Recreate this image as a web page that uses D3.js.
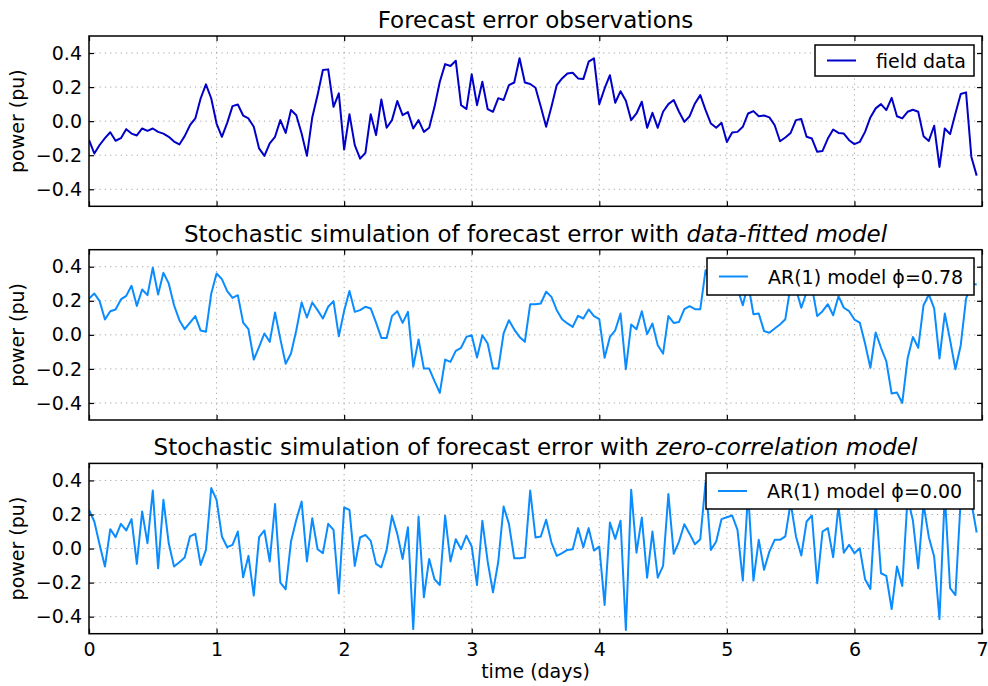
<!DOCTYPE html>
<html><head><meta charset="utf-8">
<script src="https://cdn.jsdelivr.net/npm/d3@7"></script>
<style>
body{margin:0;background:#fff}
svg{display:block}
text{font-family:"DejaVu Sans","Bitstream Vera Sans",sans-serif;fill:#000}
</style>
</head><body>
<svg id="chart" width="988" height="686"></svg>
<script>
// ---------------- data (hourly samples, 7 days) ----------------
const stepDays = 1 / 24;

const fieldData = [
 -0.11,-0.19,-0.14,-0.10,-0.065,-0.115,-0.10,-0.047,-0.073,-0.084,-0.043,-0.057,
 -0.043,-0.063,-0.073,-0.092,-0.12,-0.137,-0.088,-0.024,0.016,0.133,0.216,0.133,
 -0.014,-0.092,-0.01,0.088,0.098,0.033,0.016,-0.033,-0.16,-0.204,-0.13,-0.092,
 0.006,-0.069,0.065,0.035,-0.073,-0.204,0.022,0.153,0.30,0.304,0.084,0.163,
 -0.167,0.041,-0.141,-0.22,-0.186,0.041,-0.082,0.127,-0.039,0.006,0.118,0.035,
 0.053,-0.043,0.006,-0.063,-0.039,0.084,0.231,0.335,0.324,0.355,0.094,0.071,
 0.275,0.094,0.231,0.071,0.055,0.135,0.124,0.212,0.227,0.369,0.227,0.218,
 0.196,0.084,-0.033,0.084,0.212,0.251,0.28,0.284,0.251,0.247,0.349,0.369,
 0.10,0.192,0.27,0.108,0.176,0.12,0.006,0.045,0.114,-0.039,0.049,-0.039,
 0.055,0.10,0.124,0.055,-0.004,0.029,0.104,0.153,0.065,-0.014,-0.039,-0.01,
 -0.122,-0.067,-0.063,-0.033,0.045,0.059,0.029,0.033,0.022,-0.024,-0.118,-0.096,
 -0.069,0.006,0.012,-0.092,-0.102,-0.18,-0.175,-0.102,-0.049,-0.069,-0.073,-0.112,
 -0.135,-0.122,-0.063,0.022,0.075,0.10,0.065,0.137,0.029,0.016,0.055,0.067,
 0.055,-0.088,-0.116,-0.027,-0.269,-0.043,-0.076,0.045,0.159,0.169,-0.21,-0.32
];

const arFitted = [
 0.213,0.243,0.198,0.09,0.139,0.149,0.208,0.229,0.288,0.17,0.266,0.233,
 0.394,0.237,0.364,0.302,0.174,0.086,0.033,0.072,0.11,0.025,0.018,0.243,
 0.36,0.327,0.257,0.217,0.233,0.072,0.033,-0.145,-0.07,0.008,-0.041,0.131,
 -0.025,-0.17,-0.11,0.027,0.19,0.102,0.19,0.145,0.096,0.165,0.198,-0.008,
 0.141,0.257,0.135,0.145,0.165,0.155,0.072,-0.018,-0.018,0.11,0.139,0.07,
 0.135,-0.188,-0.027,-0.198,-0.198,-0.272,-0.341,-0.145,-0.159,-0.094,-0.076,-0.012,
 -0.002,-0.133,-0.002,-0.051,-0.198,-0.198,0.008,0.086,0.031,-0.012,-0.041,0.18,
 0.18,0.184,0.253,0.223,0.145,0.092,0.067,0.047,0.112,0.096,0.149,0.11,
 0.092,-0.135,-0.012,0.027,0.125,-0.202,0.061,0.033,0.139,0.004,0.067,-0.061,
 -0.11,0.11,0.07,0.076,0.151,0.168,0.151,0.151,0.38,0.31,0.27,0.34,
 0.29,0.32,0.27,0.174,0.30,0.121,0.125,0.022,0.012,0.037,0.061,0.092,
 0.29,0.27,0.159,0.25,0.28,0.11,0.139,0.18,0.115,0.227,0.159,0.139,
 0.09,0.072,-0.051,-0.194,0.014,-0.076,-0.155,-0.345,-0.339,-0.40,-0.139,-0.012,
 -0.076,0.174,0.237,0.155,-0.139,0.125,-0.031,-0.202,-0.061,0.213,0.30,0.296
];

const arZero = [
 0.227,0.159,0.022,-0.106,0.114,0.067,0.145,0.106,0.173,-0.09,0.218,0.031,
 0.341,-0.116,0.286,0.031,-0.106,-0.08,-0.053,0.071,0.086,-0.096,-0.008,0.355,
 0.286,0.071,0.008,0.022,0.10,-0.169,-0.043,-0.276,0.067,0.106,-0.076,0.261,
 -0.2,-0.239,0.041,0.169,0.276,-0.076,0.178,-0.004,-0.027,0.145,0.11,-0.263,
 0.241,0.227,-0.102,0.065,0.08,0.045,-0.09,-0.11,-0.008,0.192,0.086,-0.061,
 0.125,-0.473,0.188,-0.286,-0.061,-0.18,-0.214,0.192,-0.076,0.055,-0.004,0.076,
 0.012,-0.214,0.163,-0.076,-0.257,-0.076,0.247,0.145,-0.057,-0.057,-0.053,0.341,
 0.065,0.071,0.169,0.035,-0.043,-0.027,-0.008,-0.004,0.12,0.008,0.12,-0.012,
 0.012,-0.331,0.153,0.057,0.163,-0.478,0.345,-0.024,0.182,-0.171,0.10,-0.171,
 -0.102,0.32,-0.031,0.041,0.143,0.086,0.025,0.055,0.39,-0.008,0.041,0.173,
 0.184,0.194,0.11,-0.188,0.33,-0.188,0.051,-0.125,-0.018,0.051,0.051,0.071,
 0.27,0.071,-0.041,0.159,0.194,-0.204,0.10,0.12,-0.051,0.25,-0.024,0.022,
 -0.027,0.002,-0.18,-0.237,0.28,-0.145,-0.161,-0.355,-0.106,-0.22,0.30,0.165,
 -0.116,0.26,0.067,-0.047,-0.414,0.32,-0.233,-0.273,0.29,0.35,0.27,0.094
];

const panelTitles = [
 [["Forecast error observations", false]],
 [["Stochastic simulation of forecast error with ", false], ["data-fitted model", true]],
 [["Stochastic simulation of forecast error with ", false], ["zero-correlation model", true]]
];
const legendLabels = ["field data", "AR(1) model \u03D5=0.78", "AR(1) model \u03D5=0.00"];
const xTicks = [0, 1, 2, 3, 4, 5, 6, 7];
const yTicks = [-0.4, -0.2, 0.0, 0.2, 0.4];
const yLabel = "power (pu)";
const xLabel = "time (days)";

// ---------------- layout ----------------
const svg = d3.select("#chart");
const X0 = 89, X1 = 982;
const panelTops = [36, 249.7, 463.4];
const panelH = 170.3;
const colors = ["#0000c8", "#0a8cff", "#0a8cff"];
const legendBoxes = [
 {x: 815, y: 45, w: 159, h: 31},
 {x: 707, y: 258, w: 267, h: 37},
 {x: 706, y: 473, w: 268, h: 36}
];
const series = [fieldData, arFitted, arZero];
const tickLen = 5;
const fmtY = d3.format(".1f");

const x = d3.scaleLinear().domain([0, 7]).range([X0, X1]);

series.forEach((data, p) => {
  const top = panelTops[p], bottom = top + panelH;
  const y = d3.scaleLinear().domain([-0.5, 0.5]).range([bottom, top]);
  const g = svg.append("g");

  const clipId = "clip" + p;
  svg.append("clipPath").attr("id", clipId).append("rect")
    .attr("x", X0).attr("y", top).attr("width", X1 - X0).attr("height", panelH);

  // grid
  const grid = g.append("g").attr("stroke", "#9a9a9a").attr("stroke-width", 0.9)
    .attr("stroke-dasharray", "1.2,4.1");
  grid.selectAll("line.v").data(xTicks.slice(1, -1)).join("line")
    .attr("x1", d => x(d)).attr("x2", d => x(d)).attr("y1", top).attr("y2", bottom);
  grid.selectAll("line.h").data(yTicks).join("line")
    .attr("x1", X0).attr("x2", X1).attr("y1", d => y(d)).attr("y2", d => y(d));

  // series line
  const line = d3.line().x((d, i) => x(i * stepDays)).y(d => y(d));
  g.append("path").datum(data)
    .attr("clip-path", `url(#${clipId})`)
    .attr("fill", "none").attr("stroke", colors[p]).attr("stroke-width", 2)
    .attr("stroke-linejoin", "round").attr("d", line);

  // axes with inward ticks
  const left = d3.axisLeft(y).tickValues(yTicks).tickFormat(fmtY)
    .tickSizeInner(-tickLen).tickSizeOuter(0).tickPadding(7);
  const right = d3.axisRight(y).tickValues(yTicks).tickFormat("")
    .tickSizeInner(-tickLen).tickSizeOuter(0);
  const topAx = d3.axisTop(x).tickValues(xTicks).tickFormat("")
    .tickSizeInner(-tickLen).tickSizeOuter(0);
  const botAx = d3.axisBottom(x).tickValues(xTicks)
    .tickFormat(p === 2 ? d3.format("d") : "")
    .tickSizeInner(-tickLen).tickSizeOuter(0).tickPadding(9);

  const styleAxis = sel => {
    sel.select(".domain").remove();
    sel.selectAll(".tick line").attr("stroke", "#000").attr("stroke-width", 1.2);
    sel.selectAll("text").attr("font-size", 19).attr("font-family", "DejaVu Sans");
  };
  g.append("g").attr("transform", `translate(${X0},0)`).call(left).call(styleAxis);
  g.append("g").attr("transform", `translate(${X1},0)`).call(right).call(styleAxis);
  g.append("g").attr("transform", `translate(0,${top})`).call(topAx).call(styleAxis);
  g.append("g").attr("transform", `translate(0,${bottom})`).call(botAx).call(styleAxis);

  // frame
  g.append("rect").attr("x", X0).attr("y", top).attr("width", X1 - X0).attr("height", panelH)
    .attr("fill", "none").attr("stroke", "#000").attr("stroke-width", 1.5);

  // title
  const t = g.append("text").attr("x", (X0 + X1) / 2).attr("y", top - 8)
    .attr("text-anchor", "middle").attr("font-size", 23);
  panelTitles[p].forEach(([s, it]) => {
    t.append("tspan").text(s).attr("font-style", it ? "italic" : "normal");
  });

  // y label
  g.append("text").attr("transform", `translate(24,${(top + bottom) / 2}) rotate(-90)`)
    .attr("text-anchor", "middle").attr("font-size", 19).text(yLabel);

  // legend
  const lb = legendBoxes[p];
  const lg = g.append("g");
  lg.append("rect").attr("x", lb.x).attr("y", lb.y).attr("width", lb.w).attr("height", lb.h)
    .attr("fill", "#fff").attr("stroke", "#000").attr("stroke-width", 1.5);
  const cy = lb.y + lb.h / 2;
  lg.append("line").attr("x1", lb.x + 12).attr("x2", lb.x + 41).attr("y1", cy).attr("y2", cy)
    .attr("stroke", colors[p]).attr("stroke-width", 2);
  lg.append("text").attr("x", lb.x + 61).attr("y", cy + 7).attr("font-size", 19)
    .text(legendLabels[p]);
});

// x label
svg.append("text").attr("x", (X0 + X1) / 2).attr("y", 678)
  .attr("text-anchor", "middle").attr("font-size", 19).text(xLabel);
</script>
</body></html>
